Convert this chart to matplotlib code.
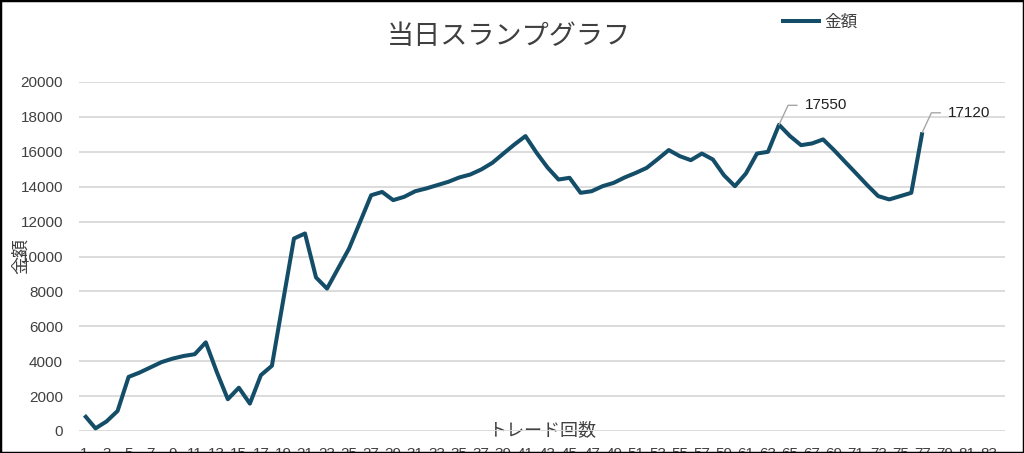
import matplotlib
matplotlib.use("Agg")
import matplotlib.pyplot as plt
from matplotlib.patches import Rectangle

plt.rcParams['font.family'] = ['Liberation Sans', 'Noto Sans CJK JP', 'DejaVu Sans']

# trade number (1..77) and balance
trades = list(range(1, 78))
amounts = [
    900, 150, 550, 1150, 3100, 3350, 3650, 3950, 4150, 4300,
    4400, 5080, 3380, 1820, 2480, 1570, 3200, 3740, 7400, 11030,
    11320, 8800, 8160, 9310, 10460, 11980, 13510, 13700, 13230, 13420,
    13740, 13900, 14090, 14280, 14530, 14700, 14990, 15370, 15900, 16420,
    16900, 15950, 15100, 14410, 14510, 13650, 13740, 14030, 14220, 14530,
    14790, 15080, 15580, 16100, 15750, 15520, 15900, 15560, 14660, 14030,
    14760, 15900, 16000, 17550, 16900, 16380, 16480, 16710, 16090, 15420,
    14760, 14090, 13460, 13270, 13460, 13650, 17120,
]
n_categories = 84
x_ticks = list(range(1, n_categories + 1, 2))
y_ticks = list(range(0, 20001, 2000))
labeled = [64, 77]  # points with data labels

title = "当日スランプグラフ"
series_name = "金額"
x_label = "トレード回数"
y_label = "金額"

line_color = "#144d68"
text_color = "#404040"

fig = plt.figure(figsize=(10.24, 4.53), dpi=100)
ax = fig.add_axes([79 / 1024, 22 / 453, 926 / 1024, 349 / 453])

ax.plot(trades, amounts, color=line_color, lw=2.9, solid_joinstyle='round',
        solid_capstyle='butt', label=series_name, zorder=3)

ax.set_xlim(0.5, n_categories + 0.5)
ax.set_ylim(0, 20000)
ax.set_xticks(x_ticks)
ax.set_xticklabels([str(t) for t in x_ticks])
ax.set_yticks(y_ticks)
ax.tick_params(axis='both', length=0, labelsize=11, labelcolor=text_color)
ax.tick_params(axis='x', pad=11.5)
ax.tick_params(axis='y', pad=11.5)
ax.grid(axis='y', color='#d9d9d9', lw=1.3)
ax.set_axisbelow(True)
for s in ax.spines.values():
    s.set_visible(False)

ax.set_xlabel(x_label, fontsize=13, color=text_color)
ax.xaxis.set_label_coords(0.5, 0.0)
ax.xaxis.label.set_verticalalignment('center')
ax.set_ylabel(y_label, fontsize=13, color=text_color)
ax.yaxis.set_label_coords(-0.0616, 0.5)
ax.yaxis.label.set_verticalalignment('center')

# data labels with leader lines
for i in labeled:
    ax.annotate(str(amounts[i - 1]), xy=(trades[i - 1], amounts[i - 1]),
                xytext=(18.5, 14), textcoords='offset points',
                fontsize=11, color='#202020', ha='left', va='center',
                arrowprops=dict(arrowstyle='-', color='#a6a6a6', lw=1,
                                shrinkA=3.5, shrinkB=0, relpos=(0, 0.5),
                                connectionstyle='angle,angleA=0,angleB=65'))

fig.text(0.497, 1 - 37 / 453, title, fontsize=19.5, color=text_color,
         ha='center', va='center')

fig.legend(loc='center left', bbox_to_anchor=(766 / 1024, 1 - 22 / 453),
           frameon=False, fontsize=12, handlelength=2.4, handletextpad=0.2,
           labelcolor=text_color)

fig.add_artist(Rectangle((0, 0), 1, 1, transform=fig.transFigure, fill=False,
                         ec='black', lw=2.5, zorder=100))

fig.savefig("out.png", dpi=100)
